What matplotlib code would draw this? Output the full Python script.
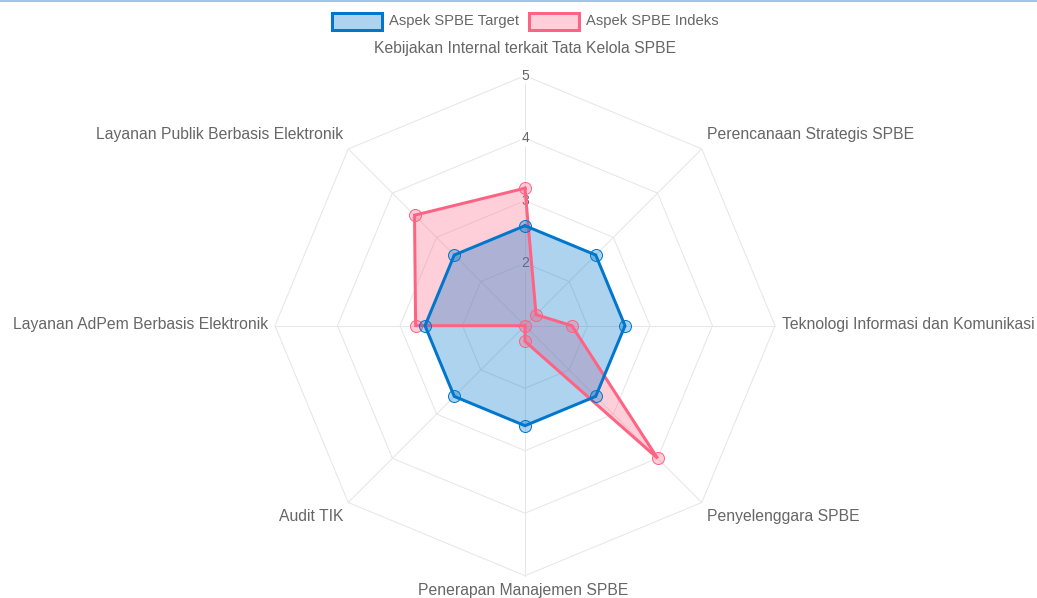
import numpy as np
import matplotlib
matplotlib.use("Agg")
import matplotlib.pyplot as plt
from matplotlib.patches import Rectangle
from matplotlib.lines import Line2D
from matplotlib.transforms import Affine2D

plt.rcParams["font.family"] = ["Liberation Sans", "DejaVu Sans"]

# ---------------- data ----------------
categories = [
    "Kebijakan Internal terkait Tata Kelola SPBE",
    "Perencanaan Strategis SPBE",
    "Teknologi Informasi dan Komunikasi",
    "Penyelenggara SPBE",
    "Penerapan Manajemen SPBE",
    "Audit TIK",
    "Layanan AdPem Berbasis Elektronik",
    "Layanan Publik Berbasis Elektronik",
]
target_values = [2.6, 2.6, 2.6, 2.6, 2.6, 2.6, 2.6, 2.6]
indeks_values = [3.2, 1.25, 1.75, 4.0, 1.25, 1.0, 2.75, 3.5]
series_names = ["Aspek SPBE Target", "Aspek SPBE Indeks"]
r_ticks = [2, 3, 4, 5]
r_min, r_max = 1, 5

# ---------------- style ----------------
W, H = 1037, 598
BLUE = (0 / 255, 119 / 255, 204 / 255)
PINK = (255 / 255, 99 / 255, 132 / 255)
BLUE_FILL = BLUE + (0.32,)
PINK_FILL = PINK + (0.3,)
GRID = "#e6e6e6"
TXT = "#666666"
PX = 0.72  # points per pixel at dpi 100

fig = plt.figure(figsize=(W / 100, H / 100), dpi=100)
pix = Affine2D().scale(1 / W, -1 / H).translate(0, 1) + fig.transFigure

cx, cy, R = 525, 325.7, 250
ax = fig.add_axes([(cx - R) / W, (H - cy - R) / H, 2 * R / W, 2 * R / H],
                  projection="polar")
ax.set_theta_zero_location("N")
ax.set_theta_direction(-1)
ax.set_ylim(r_min, r_max)
ax.grid(False)
ax.set_xticks([])
ax.set_yticks([])
ax.spines["polar"].set_visible(False)
ax.patch.set_alpha(0)

n = len(categories)
angles = np.arange(n) * 2 * np.pi / n
closed = np.append(angles, angles[0])

# grid rings (polygonal) and angle lines
for t in r_ticks:
    ax.plot(closed, [t] * (n + 1), color=GRID, lw=1 * PX, zorder=1, clip_on=False)
for a in angles:
    ax.plot([a, a], [r_min, r_max], color=GRID, lw=1 * PX, zorder=1, clip_on=False)

# tick labels (drawn beneath the datasets)
for t in r_ticks:
    ax.text(0, t, str(t), ha="center", va="center", fontsize=14 * PX, color=TXT,
            zorder=2, bbox=dict(boxstyle="square,pad=0.1", fc="white", ec="none", alpha=0.75))

# datasets: all fills first, then lines/points; first dataset on top
series = [(target_values, BLUE, BLUE_FILL), (indeks_values, PINK, PINK_FILL)]
fill_z = [3.2, 3.0]
line_z = [5.0, 4.0]
for (vals, lc, fc), fz, lz in zip(series, fill_z, line_z):
    vc = np.append(vals, vals[0])
    ax.fill(closed, vc, color=fc, zorder=fz, lw=0)
    ax.plot(closed, vc, color=lc, lw=3 * PX, zorder=lz, clip_on=False,
            solid_joinstyle="miter")
    ax.plot(angles, vals, "o", ms=12 * PX, mfc=fc, mec=lc, mew=1 * PX,
            zorder=lz + 0.1, clip_on=False)

# point labels
offsets = [(0, 27.5), (5, 14.5), (7, 1), (5, -14.5), (-2, -15), (-5, -14.5), (-7, 1), (-5, 14.5)]
aligns = ["center", "left", "left", "left", "center", "right", "right", "right"]
for a, lab, off, ha in zip(angles, categories, offsets, aligns):
    ax.annotate(lab, xy=(a, r_max), xytext=off, textcoords="offset pixels",
                ha=ha, va="center", fontsize=15.7 * PX, color=TXT, annotation_clip=False)

# legend (Chart.js style)
leg_x = [332, 529]
for name, (vals, lc, fc), x0 in zip(series_names, series, leg_x):
    fig.add_artist(Rectangle((x0, 13), 50, 17, transform=pix, fc=fc, ec=lc, lw=3 * PX))
    fig.text(x0 + 57, 21.5, name, transform=pix, ha="left", va="center",
             fontsize=14.7 * PX, color=TXT)

# thin top border line
fig.add_artist(Line2D([0, W], [0.8, 0.8], transform=pix, color="#8fb4e2", lw=1.6 * PX))

fig.savefig("out.png", dpi=100)
